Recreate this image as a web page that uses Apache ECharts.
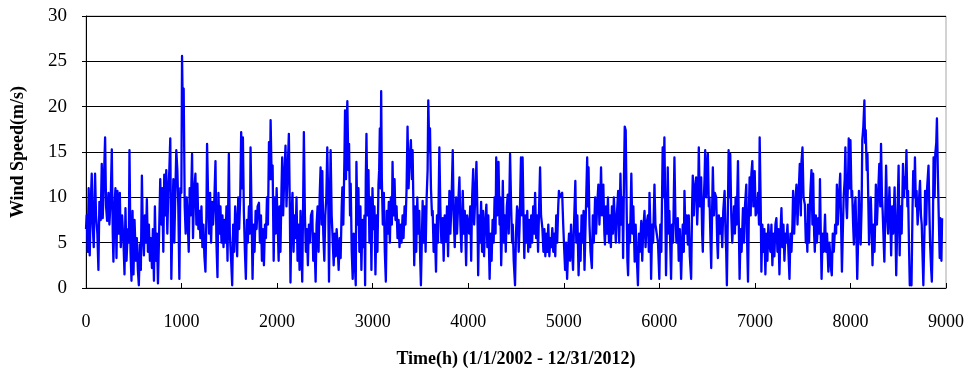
<!DOCTYPE html>
<html>
<head>
<meta charset="utf-8">
<script src="https://cdn.jsdelivr.net/npm/echarts@6/dist/echarts.min.js"></script>
<style>html,body{margin:0;padding:0;background:#fff;}#c{width:970px;height:373px;}</style>
</head>
<body>
<div id="c"></div>
<script>
// Hourly wind speed (m/s), as [hour, speed] pairs, split by period
const part1 = [[0,6.5],[7,8],[18,4],[28,11],[39,3.6],[49,9],[60,12.6],[70,7],[81,4.5],[95,12.6],[105,8],[119,6],[130,2],[140,9.5],[154,7.5],[165,13.7],[175,7.7],[186,11.5],[200,16.6],[210,9],[221,7.4],[235,10.5],[245,7],[259,10],[270,15.3],[280,6],[287,2.9],[298,9],[308,11],[319,3.3],[329,10.7],[343,6],[354,10.5],[364,4.5],[378,8],[392,5.1],[403,1.5],[413,8.8],[424,3],[438,6.5],[448,5],[455,15.2],[466,4],[476,0.8],[487,8.5],[497,1.5],[508,7.5],[522,3],[532,5.5],[543,2],[553,0.3],[564,4.8],[574,2],[585,12.4],[595,6],[606,3.6],[616,8],[627,5],[637,9.8],[648,4],[658,7],[669,3],[679,5.5],[690,2.2],[700,6.5],[711,0.8],[721,9],[732,3],[742,6],[753,0.5],[763,5],[777,12],[788,7],[798,11],[809,4],[819,12.5],[830,8],[840,13],[851,6],[861,10.5],[872,13],[882,16.5],[893,1],[903,7],[914,12],[924,5],[935,10.5],[945,15.2],[956,13],[966,9],[977,1],[987,11],[998,10.5],[1005,25.6],[1015,18],[1022,22],[1033,9],[1043,6],[1054,10],[1064,7.5],[1075,4],[1085,11],[1096,8],[1110,14.8],[1120,5.5],[1131,10.5],[1145,12.6],[1155,7],[1166,11.5],[1176,6.5],[1187,8.5],[1197,5.5],[1208,9],[1218,4.5],[1229,7],[1239,3.5],[1250,1.8],[1260,8],[1267,15.9],[1278,10],[1288,6],[1299,10.5],[1309,5],[1320,9.5],[1330,7],[1344,10],[1355,14],[1365,5],[1376,1.2],[1386,10.5],[1397,6],[1407,9],[1418,5],[1428,8],[1439,4.5],[1449,7.5],[1460,5],[1470,9],[1481,3],[1495,14.8],[1505,6],[1519,3],[1530,0.3],[1540,7],[1551,4],[1561,9],[1572,7],[1582,3.5],[1593,10],[1603,6.5],[1614,10],[1624,17.2],[1635,11],[1642,16.6],[1652,8.5],[1663,4],[1673,1],[1684,7.5],[1694,5],[1705,9],[1715,6],[1722,15.5],[1733,8],[1743,1],[1754,7],[1764,4],[1775,8.5],[1785,6.5],[1796,9],[1810,9.4],[1820,5],[1831,8],[1841,3],[1852,6.5],[1862,2.5],[1873,7],[1883,5.5],[1894,10],[1904,7],[1915,16.1],[1925,12],[1932,18.5],[1943,12],[1953,13.5],[1964,3],[1974,10],[1985,6],[1995,11],[2006,7],[2016,3]];
const part2 = [[2025,9],[2035,4],[2046,11],[2053,14.4],[2063,8],[2074,12],[2088,15.7],[2098,9],[2109,12.5],[2123,17],[2133,9],[2140,0.6],[2151,8],[2161,10.5],[2172,4],[2182,8],[2193,5.5],[2203,10],[2214,3],[2224,7],[2235,2],[2245,8.5],[2256,4],[2263,0.7],[2273,10],[2280,17.2],[2291,8],[2301,4],[2312,6.5],[2322,2.5],[2333,7],[2343,5],[2354,8],[2368,8.5],[2378,3],[2389,6],[2403,0.7],[2413,7],[2424,9],[2434,4],[2445,10],[2455,13.3],[2466,7],[2473,12.9],[2483,6],[2494,3],[2504,8],[2515,10],[2525,15.5],[2536,9],[2543,0.7],[2553,10],[2560,15.2],[2571,8],[2581,5.5],[2592,2.5],[2602,6],[2613,3.5],[2623,6.5],[2634,4.5],[2644,2],[2655,5.5],[2665,3.3],[2676,9],[2683,11.1],[2693,7],[2704,14],[2711,19.6],[2721,12],[2728,18],[2735,20.6],[2746,13],[2753,15.9],[2763,8],[2770,11.5],[2781,4],[2791,1],[2802,6],[2812,3],[2823,0.3],[2830,13.9],[2840,7],[2851,11],[2861,4],[2872,9],[2882,2],[2893,7.5],[2903,4.5],[2914,8],[2921,0.3],[2928,12],[2935,17],[2945,8],[2956,13],[2966,5],[2977,10],[2987,2],[2998,11],[3008,6.5],[3019,9],[3029,1.5],[3040,8],[3050,4],[3061,11.5],[3068,13],[3075,17.6],[3082,11],[3089,21.7],[3096,12],[3106,7],[3117,10.5],[3127,4],[3138,0.7],[3148,8.5],[3159,6],[3169,9.5],[3180,5],[3190,10],[3201,7],[3208,13.9],[3218,8],[3229,12],[3239,7.5],[3250,9],[3260,5.5],[3271,7.5],[3281,4.5],[3292,7],[3302,5],[3313,8],[3323,5.5],[3334,9],[3344,7],[3355,11],[3365,17.8],[3376,11],[3386,14],[3400,16.3],[3411,12],[3418,15.2],[3428,8],[3435,2.5],[3446,9],[3456,4],[3467,10],[3477,6],[3488,8.5],[3498,3],[3505,0.3],[3516,6],[3523,9.6],[3533,5],[3544,9],[3554,4],[3565,10],[3575,13],[3582,20.7],[3593,15],[3600,17.6],[3610,11],[3621,8],[3628,8.5],[3638,4],[3649,7],[3663,1.8],[3673,8],[3684,5],[3698,15.5],[3708,9],[3719,5],[3733,7.7],[3743,3],[3754,8],[3768,5.1],[3778,9],[3789,3.5],[3803,10.7],[3813,6],[3824,9],[3838,15.2],[3848,8],[3859,4.5],[3873,10],[3883,6],[3894,9],[3908,12.2],[3918,7],[3929,4],[3943,10.7],[3953,6],[3964,8.5],[3978,2.5],[3988,8]];
const part3 = [[4010,6],[4021,9],[4031,3],[4041,10],[4052,13.1],[4062,7],[4072,9.5],[4086,13.9],[4097,8],[4104,1.4],[4114,8],[4124,5],[4135,9.5],[4145,4],[4155,8.5],[4166,3.5],[4176,7],[4190,9.2],[4200,4.5],[4210,8],[4224,1],[4235,6],[4245,3],[4255,7.5],[4266,5],[4276,10],[4286,6],[4293,14.4],[4304,8],[4317,13.9],[4328,7],[4335,10],[4345,2.5],[4355,7],[4362,11.8],[4373,5],[4383,8],[4393,4],[4404,9],[4414,10.3],[4424,6],[4438,14.8],[4449,9],[4459,5],[4466,7],[4476,3],[4490,0.3],[4500,6],[4511,9],[4518,8.5],[4528,4],[4538,7],[4552,14.4],[4562,8],[4569,14.4],[4580,7],[4587,3.3],[4597,8],[4607,5],[4618,8.5],[4628,4],[4638,7.5],[4649,4.5],[4659,8],[4669,5],[4680,9],[4690,6],[4700,10.5],[4711,5.5],[4721,8],[4731,4],[4742,9],[4752,13.3],[4762,8],[4776,6.6],[4787,4],[4797,6.5],[4807,3.5],[4818,6],[4828,4],[4838,7],[4849,3.5],[4859,5.5],[4869,4.5],[4880,6.6],[4890,4],[4900,6],[4911,3.5],[4921,8],[4931,5],[4942,9],[4949,10.7],[4959,10],[4969,10],[4983,10.5],[4994,7],[5004,4.4],[5014,2],[5024,5],[5035,1],[5045,4],[5055,6],[5066,3],[5076,7],[5086,4.5],[5097,2],[5107,7],[5121,11.8],[5131,5],[5142,8],[5155,1.4],[5166,6],[5176,3],[5186,8],[5197,5],[5207,8.5],[5217,2],[5228,7],[5235,10],[5245,14.4],[5252,9],[5259,13.3],[5269,7],[5280,4],[5294,2.2],[5304,8],[5314,5],[5328,10],[5338,6],[5349,9],[5362,11.4],[5373,7],[5383,10],[5390,13.3],[5400,8],[5414,11.4],[5425,6],[5431,4.8],[5442,9],[5452,6],[5462,10],[5473,5],[5483,8],[5493,4.5],[5504,9],[5514,6],[5524,10],[5535,10],[5545,5],[5555,8],[5569,10.7],[5580,5],[5593,12.6],[5604,7],[5614,10],[5621,3.3],[5631,13],[5638,17.8],[5648,17.4],[5659,8],[5666,3],[5673,1.4],[5683,7],[5693,5],[5707,12.6],[5718,6],[5728,9],[5742,2.9],[5752,7],[5762,4],[5776,0.3],[5787,6],[5797,4],[5811,7.4],[5821,3],[5832,6.5],[5845,8.5],[5856,4.5],[5866,7],[5880,8],[5890,4],[5897,10.5],[5908,6],[5914,1],[5925,7],[5935,5],[5949,11.4],[5959,7]];
const part4 = [[5986,5],[6000,1],[6010,7],[6021,4],[6035,15.5],[6042,10],[6053,16.6],[6063,8],[6070,1.4],[6081,8],[6088,13.3],[6098,6],[6105,8.5],[6116,4],[6123,1],[6133,7],[6144,5],[6158,14.4],[6168,8],[6179,5],[6193,7.7],[6203,3],[6214,6.5],[6228,1],[6238,5],[6245,7],[6256,4],[6263,10.7],[6273,6],[6287,8],[6298,4.8],[6308,8],[6319,3.5],[6333,1],[6343,9],[6350,12.4],[6361,8],[6371,11],[6385,12.2],[6396,7],[6406,10],[6413,15.5],[6424,9],[6438,12.2],[6448,6],[6455,4],[6466,10],[6473,12],[6480,15.2],[6490,10],[6501,13],[6508,14.8],[6518,9],[6525,10],[6536,5],[6543,2.2],[6553,9],[6560,13.3],[6571,8],[6581,10.5],[6595,10],[6606,5],[6613,3.3],[6623,8],[6637,6],[6648,7.7],[6658,4.5],[6669,8.5],[6683,10.7],[6693,6],[6700,4],[6707,0.3],[6718,9],[6725,15.2],[6735,10],[6742,14.8],[6753,8],[6763,5],[6770,4.8],[6781,9],[6791,6],[6798,10],[6809,7],[6823,14],[6833,6],[6840,1],[6851,6.5],[6861,4],[6875,8.8],[6886,5],[6896,9],[6910,11.4],[6917,6],[6928,0.7],[6938,9],[6945,12.2],[6956,8],[6963,12.5],[6973,14],[6984,9],[6998,12.9],[7008,8],[7022,8.5],[7033,10.5],[7043,7],[7050,16.6],[7061,9],[7068,1.8],[7078,7],[7089,4],[7099,6.5],[7110,1.5],[7120,6],[7131,3],[7141,7],[7152,5],[7162,4],[7173,7],[7183,2.5],[7194,6],[7204,3.5],[7215,7],[7225,7.7],[7236,4],[7246,6.5],[7257,1.5],[7267,6],[7278,8.8],[7288,4.5],[7299,7],[7309,3],[7320,6],[7330,5],[7341,7],[7351,4],[7362,1],[7372,6],[7383,4],[7393,7],[7400,10.7],[7411,6],[7421,9],[7435,11.4],[7446,7],[7456,10],[7470,13.7],[7481,8],[7488,14],[7498,15.5],[7509,10],[7523,9.2],[7533,5],[7540,7]];
const part5 = [[7549,4],[7556,9.2],[7567,5],[7578,10],[7592,13],[7602,7],[7610,12.6],[7620,6],[7627,4],[7638,8],[7649,5],[7663,7.7],[7674,6],[7681,12],[7691,5],[7698,1],[7709,6],[7720,4],[7734,8.1],[7744,4],[7755,6],[7769,1.8],[7780,5],[7787,4.8],[7798,2],[7805,1.4],[7815,6],[7826,4],[7840,7],[7850,6],[7858,11.4],[7868,7],[7879,10],[7893,12.6],[7904,6],[7911,1.8],[7922,7],[7929,10],[7940,12],[7947,15.5],[7957,9],[7964,7.7],[7975,12],[7982,16.5],[7993,11],[8000,16.3],[8011,10],[8018,10.7],[8028,7],[8036,4.8],[8046,9],[8053,10],[8064,5],[8071,1],[8082,6],[8089,10.7],[8099,7],[8107,4.8],[8117,9],[8124,16.3],[8135,17.8],[8146,20.7],[8153,16],[8160,17.4],[8170,13],[8178,14.8],[8188,9],[8195,4.8],[8206,8],[8213,10],[8224,6],[8231,2.5],[8241,7],[8252,4],[8266,11.4],[8277,7],[8288,10],[8302,13.7],[8312,9],[8320,15.9],[8330,10],[8337,8.5],[8348,5],[8355,2.9],[8366,9],[8373,13.5],[8384,8],[8394,6],[8408,11.1],[8419,7],[8426,3.6],[8437,9],[8447,6],[8462,11.1],[8472,6],[8479,1.4],[8490,7],[8504,13.5],[8515,3.6],[8525,9],[8536,6],[8550,13.7],[8561,10],[8568,12.2],[8578,11],[8586,15.2],[8596,9],[8603,10.7],[8614,4],[8621,0.3],[8632,1],[8639,0.3],[8650,9],[8657,12.9],[8668,10],[8675,14.4],[8685,9],[8692,10.7],[8703,7],[8714,9],[8728,11.8],[8738,8],[8746,7],[8756,3],[8763,0.3],[8774,6],[8781,10.7],[8792,7],[8802,11],[8817,13.5],[8827,8],[8834,4.8],[8845,2],[8852,0.7],[8863,7],[8870,14.4],[8881,10],[8888,14.8],[8898,16],[8905,18.7],[8916,12],[8923,8.5],[8934,3.3],[8941,7.7],[8952,3],[8959,7.7]];

const xTicks = [0, 1000, 2000, 3000, 4000, 5000, 6000, 7000, 8000, 9000];
const yTicks = [0, 5, 10, 15, 20, 25, 30];
const xTitle = 'Time(h) (1/1/2002 - 12/31/2012)';
const yTitle = 'Wind Speed(m/s)';

const windData = part1.concat(part2, part3, part4, part5);
const FONT = '"Liberation Serif", "Times New Roman", serif';

const chart = echarts.init(document.getElementById('c'), null, {renderer: 'canvas'});
chart.setOption({
  animation: false,
  backgroundColor: '#fff',
  grid: {left: 86, right: 24, top: 16, bottom: 85, show: true, borderColor: '#a6a6a6', borderWidth: 1, backgroundColor: 'transparent'},
  xAxis: {
    type: 'value', min: xTicks[0], max: xTicks[xTicks.length - 1], interval: 1000,
    name: xTitle, nameLocation: 'middle', nameGap: 62,
    nameTextStyle: {fontFamily: FONT, fontWeight: 'bold', fontSize: 18, color: '#000'},
    axisLine: {show: true, onZero: false, lineStyle: {color: '#000', width: 1}},
    axisTick: {show: true, inside: true, length: 5, lineStyle: {color: '#000'}},
    axisLabel: {margin: 25, fontFamily: FONT, fontSize: 18, color: '#000', formatter: function (v) { return String(v); }},
    splitLine: {show: false}
  },
  yAxis: {
    type: 'value', min: yTicks[0], max: yTicks[yTicks.length - 1], interval: 5,
    name: yTitle, nameLocation: 'middle', nameGap: 59, nameRotate: 90,
    nameTextStyle: {fontFamily: FONT, fontWeight: 'bold', fontSize: 18, color: '#000'},
    axisLine: {show: true, lineStyle: {color: '#000', width: 1}},
    axisTick: {show: true, inside: false, length: 4, lineStyle: {color: '#000'}},
    axisLabel: {margin: 19, fontFamily: FONT, fontSize: 19, color: '#000'},
    splitLine: {show: true, lineStyle: {color: '#000', width: 1}}
  },
  series: [{
    type: 'line', data: windData, showSymbol: false, symbol: 'none', sampling: null,
    lineStyle: {color: '#0000ff', width: 2.3, join: 'round'}, z: 3
  }]
});
</script>
</body>
</html>
